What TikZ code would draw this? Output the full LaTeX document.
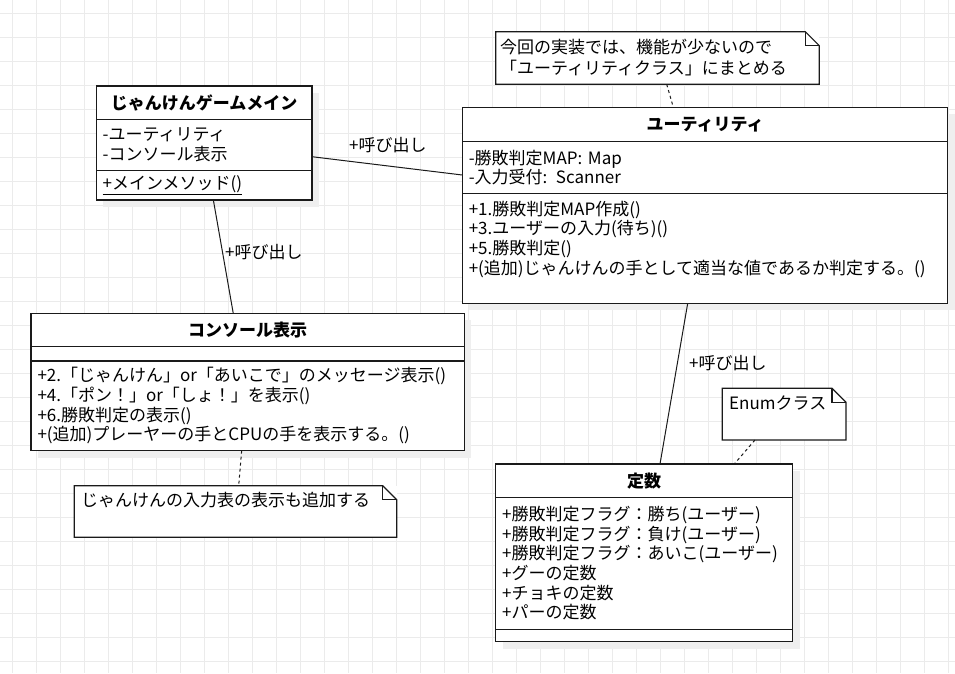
\documentclass[tikz,border=0pt]{standalone}
\usepackage{fontspec}
\setmainfont{Noto Sans CJK JP}
\usetikzlibrary{positioning,shadows}
\definecolor{gridgray}{HTML}{EBEBEB}
\definecolor{umlline}{HTML}{1A1A1A}
\definecolor{umlshadow}{HTML}{EFEFEF}
\tikzset{
  umlpart/.style={
    draw=umlline,
    fill=white,
    line width=1.3pt,
    align=left,
    inner xsep=6.5pt,
    inner ysep=0pt,
    outer sep=0pt,
    font=\fontsize{17}{19.6}\selectfont,
    drop shadow={shadow xshift=7pt, shadow yshift=-7pt, fill=umlshadow, opacity=1}
  },
  umltitle/.style={umlpart, align=center, font=\fontsize{17}{19.6}\selectfont\bfseries},
  umlnote/.style={draw=none, fill=white, inner sep=0pt, outer sep=0pt, anchor=north west},
  noteline/.style={draw=umlline, line width=1.2pt},
  notetext/.style={anchor=west, align=left, inner sep=0pt, font=\fontsize{17}{21}\selectfont},
  calllabel/.style={anchor=west, inner sep=0pt, font=\fontsize{17}{20}\selectfont},
  calllink/.style={draw=umlline, line width=1pt},
  notelink/.style={draw=umlline, line width=1pt, dash pattern=on 3pt off 3pt},
  gridline/.style={draw=gridgray, line width=1pt}
}

\begin{document}
\begin{tikzpicture}[x=1pt, y=-1pt]
  \fill[white] (0,0) rectangle (955,673);
  \useasboundingbox (0,0) rectangle (955,673);
  \foreach \gx in {12.3,36.3,...,955} \draw[gridline] (\gx,0) -- (\gx,673);
  \foreach \gy in {13.5,37.5,...,673} \draw[gridline] (0,\gy) -- (955,\gy);

  % main class
  \node[umltitle, anchor=north west, text width=202.7, minimum height=33.3] (mainT) at (96.2,86) {じゃんけんゲームメイン};
  \node[umlpart, below=0pt of mainT, text width=202.7, minimum height=51.4] (mainA) {-ユーティリティ\\-コンソール表示};
  \node[umlpart, below=0pt of mainA, text width=202.7, minimum height=29.3] (mainM) {\underline{+メインメソッド()}};

  % utility class
  \node[umltitle, anchor=north west, text width=472.4, minimum height=34.4] (utilT) at (462.3,107.3) {ユーティリティ};
  \node[umlpart, below=0pt of utilT, text width=472.4, minimum height=51.6] (utilA) {-勝敗判定MAP: Map\\-入力受付: Scanner};
  \node[umlpart, below=0pt of utilA, text width=472.4, minimum height=110] (utilM) {+1.勝敗判定MAP作成()\\+3.ユーザーの入力(待ち)()\\+5.勝敗判定()\\+(追加)じゃんけんの手として適当な値であるか判定する。()\\[2pt] \mbox{}};

  % console class
  \node[umltitle, anchor=north west, text width=420.3, minimum height=33.4] (consoleT) at (31,313.3) {コンソール表示};
  \node[umlpart, below=0pt of consoleT, text width=420.3, minimum height=14.3] (consoleA) {};
  \node[umlpart, below=0pt of consoleA, text width=420.3, minimum height=89.7] (consoleM) {+2.「じゃんけん」or「あいこで」のメッセージ表示()\\+4.「ポン！」or「しょ！」を表示()\\+6.勝敗判定の表示()\\+(追加)プレーヤーの手とCPUの手を表示する。()};

  % constant class
  \node[umltitle, anchor=north west, text width=284, minimum height=33.3] (constT) at (495.7,464) {定数};
  \node[umlpart, below=0pt of constT, text width=284, minimum height=132] (constA) {+勝敗判定フラグ：勝ち(ユーザー)\\+勝敗判定フラグ：負け(ユーザー)\\+勝敗判定フラグ：あいこ(ユーザー)\\+グーの定数\\+チョキの定数\\+パーの定数};
  \node[umlpart, below=0pt of constA, text width=284, minimum height=12.4] (constM) {};

  % notes
  \node[umlnote, minimum width=323.6, minimum height=52.6] (noteU) at (495.7,31.7) {};
  \node[umlnote, minimum width=322.4, minimum height=51.6] (noteC) at (74.3,485.7) {};
  \node[umlnote, minimum width=123.7, minimum height=51.7] (noteE) at (722.3,388.3) {};
  \foreach \n in {noteU,noteC,noteE}{
    \draw[noteline] (\n.north west) -- ([xshift=-14pt]\n.north east) -- ([yshift=-14pt]\n.north east) -- (\n.south east) -- (\n.south west) -- cycle;
    \draw[noteline] ([xshift=-14pt]\n.north east) -- ([xshift=-14pt,yshift=-14pt]\n.north east) -- ([yshift=-14pt]\n.north east);
  }
  \node[notetext] (noteUtext) at (500,57.5) {今回の実装では、機能が少ないので\\「ユーティリティクラス」にまとめる};
  \node[notetext] (noteCtext) at (81,500) {じゃんけんの入力表の表示も追加する};
  \node[notetext] (noteEtext) at (729,403.3) {Enumクラス};

  % links
  \draw[calllink] ([yshift=-11.7pt]mainA.east) -- ([yshift=-7.5pt]utilA.west);
  \draw[calllink] ([xshift=9.3pt]mainM.south) -- ([xshift=-14.4pt]consoleT.north);
  \draw[calllink] ([xshift=-17.3pt]utilM.south) -- ([xshift=15.8pt]constT.north);
  \node[calllabel] (callMU) at (349,145) {+呼び出し};
  \node[calllabel] (callMC) at (225,251.7) {+呼び出し};
  \node[calllabel] (callUK) at (689,363.3) {+呼び出し};

  \draw[notelink] ([xshift=9.2pt]noteU.south) -- ([xshift=-31.7pt]utilT.north);
  \draw[notelink] ([xshift=-6pt]consoleM.south) -- ([xshift=3.2pt]noteC.north);
  \draw[notelink] ([xshift=-29.2pt]noteE.south) -- ([xshift=90.1pt]constT.north);
\end{tikzpicture}
\end{document}
